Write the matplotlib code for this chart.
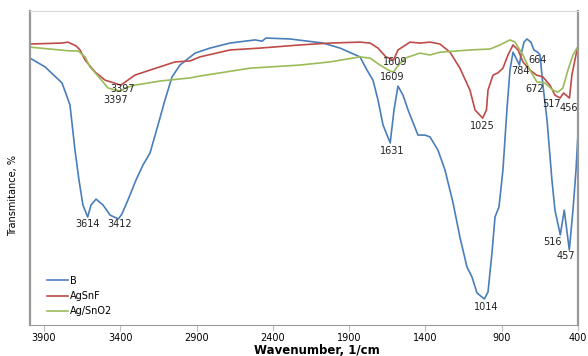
import numpy as np
import matplotlib
matplotlib.use("Agg")
import matplotlib.pyplot as plt

# FTIR spectra (wavenumber, transmittance in arbitrary %)
b_wn = [3992, 3893, 3782, 3730, 3697, 3671, 3645, 3614, 3592, 3559, 3513, 3467, 3412, 3389, 3350,
        3297, 3251, 3205, 3153, 3107, 3061, 3009, 2910, 2812, 2681, 2517, 2471, 2445, 2288, 2071,
        1960, 1829, 1783, 1744, 1711, 1678, 1631, 1606, 1580, 1547, 1514, 1449, 1403, 1370, 1318,
        1272, 1219, 1174, 1128, 1095, 1062, 1014, 990, 964, 944, 918, 892, 866, 846, 826, 806,
        784, 774, 754, 735, 709, 689, 664, 649, 630, 603, 571, 551, 516, 490, 457, 433, 413, 400]
b_t = [85.0, 82.2, 77.1, 70.1, 55.7, 46.2, 38.2, 34.4, 38.2, 40.1, 38.2, 35.0, 33.8, 35.4, 39.8,
       46.2, 51.0, 54.8, 63.7, 71.7, 79.0, 82.8, 86.6, 88.2, 89.8, 90.8, 90.4, 91.4, 91.1, 89.8,
       88.2, 85.4, 81.2, 78.0, 71.7, 63.7, 58.0, 68.5, 76.1, 73.2, 68.5, 60.5, 60.5, 59.9, 55.7,
       49.4, 38.9, 28.0, 18.5, 15.3, 10.2, 8.3, 10.5, 22.9, 34.4, 37.6, 49.4, 68.5, 81.2, 86.9, 85.0,
       82.8, 86.0, 90.1, 91.1, 90.1, 87.6, 86.9, 86.0, 76.4, 65.3, 46.2, 36.6, 28.7, 36.6, 23.9, 36.6, 49.4, 61.1]

agsnf_wn = [3992, 3782, 3743, 3717, 3690, 3664, 3631, 3566, 3500, 3397, 3350, 3304, 3205, 3041,
            2943, 2878, 2681, 2484, 2222, 2026, 1829, 1763, 1711, 1659, 1609, 1580, 1501, 1436,
            1370, 1305, 1239, 1174, 1108, 1075, 1025, 1000, 990, 957, 925, 892, 859, 826, 793,
            761, 715, 672, 630, 584, 551, 517, 495, 456, 440, 407, 400]
agsnf_t = [89.5, 89.8, 90.1, 89.5, 88.9, 87.6, 84.4, 80.6, 78.0, 76.4, 78.0, 79.6, 81.2, 83.8,
           84.1, 85.4, 87.6, 88.2, 89.2, 89.8, 90.1, 89.8, 88.2, 85.4, 84.4, 87.6, 90.1, 89.8,
           90.1, 89.5, 86.9, 81.8, 74.8, 68.5, 65.9, 68.5, 74.8, 79.6, 80.3, 81.8, 86.0, 89.2, 87.6,
           83.8, 81.2, 79.6, 79.0, 76.4, 73.2, 72.3, 73.9, 72.3, 79.6, 87.6, 88.5]

agsno2_wn = [3992, 3795, 3730, 3677, 3631, 3599, 3546, 3481, 3428, 3397, 3369, 3304, 3140, 2943,
             2878, 2550, 2222, 2026, 1829, 1763, 1698, 1632, 1609, 1586, 1534, 1436, 1370, 1305,
             1108, 977, 911, 846, 813, 761, 715, 669, 617, 564, 531, 499, 466, 433, 407, 400]
agsno2_t = [88.5, 87.6, 87.3, 87.3, 85.4, 82.2, 79.3, 75.5, 74.8, 74.5, 75.5, 76.4, 77.7, 78.7,
            79.3, 81.8, 82.8, 83.8, 85.4, 85.0, 82.8, 80.9, 80.6, 82.2, 85.0, 86.6, 86.0, 86.9,
            87.6, 87.9, 89.2, 90.8, 90.1, 86.0, 81.2, 77.4, 77.1, 74.8, 74.2, 75.5, 81.2, 86.0, 88.2, 88.5]

# peak labels: text, wavenumber, transmittance
peak_text = ["3614", "3412", "1631", "1014", "516", "457", "3397", "3397", "1609", "1609",
             "1025", "784", "664", "672", "517", "456"]
peak_wn = [3614, 3405, 1620, 1000, 570, 479, 3382, 3428, 1600, 1619, 1029, 780, 662, 682, 571, 459]
peak_t = [32.2, 32.2, 55.4, 5.7, 26.4, 22.0, 75.2, 71.7, 83.8, 79.0, 63.4, 80.9, 84.4, 75.2, 70.4, 69.1]

xticks = [3900, 3400, 2900, 2400, 1900, 1400, 900, 400]

fig = plt.figure(figsize=(5.88, 3.56), dpi=100)
ax = fig.add_axes([0.051, 0.087, 0.932, 0.882])

ax.plot(b_wn, b_t, color="#4a7ebb", lw=1.2, label="B")
ax.plot(agsnf_wn, agsnf_t, color="#be4b48", lw=1.2, label="AgSnF")
ax.plot(agsno2_wn, agsno2_t, color="#9bbb59", lw=1.2, label="Ag/SnO2")

for t, x, y in zip(peak_text, peak_wn, peak_t):
    ax.text(x, y, t, fontsize=7, ha="center", va="center", color="#222222")

ax.set_xlim(3992, 400)
ax.set_ylim(0, 100)
ax.set_xticks(xticks)
ax.set_xticklabels([str(v) for v in xticks], fontsize=7)
ax.set_yticks([])
ax.tick_params(axis="x", direction="out", length=4, color="#bfbfbf", pad=2)

for s in ["left", "bottom", "right"]:
    ax.spines[s].set_color("#999999")
ax.spines["left"].set_linewidth(1.6)
ax.spines["right"].set_linewidth(1.6)
ax.spines["top"].set_color("#d9d9d9")

ax.set_xlabel("Wavenumber, 1/cm", fontsize=8.5, fontweight="bold")
ax.xaxis.set_label_coords(0.524, -0.0605)
ax.set_ylabel("Transmitance, %", fontsize=7)
ax.yaxis.set_label_coords(-0.022, 0.414)

ax.legend(loc="lower left", bbox_to_anchor=(0.015, 0.0), frameon=False, fontsize=7,
          handlelength=2.2, handletextpad=0.2, labelspacing=0.55)

fig.savefig("out.png", dpi=100)
